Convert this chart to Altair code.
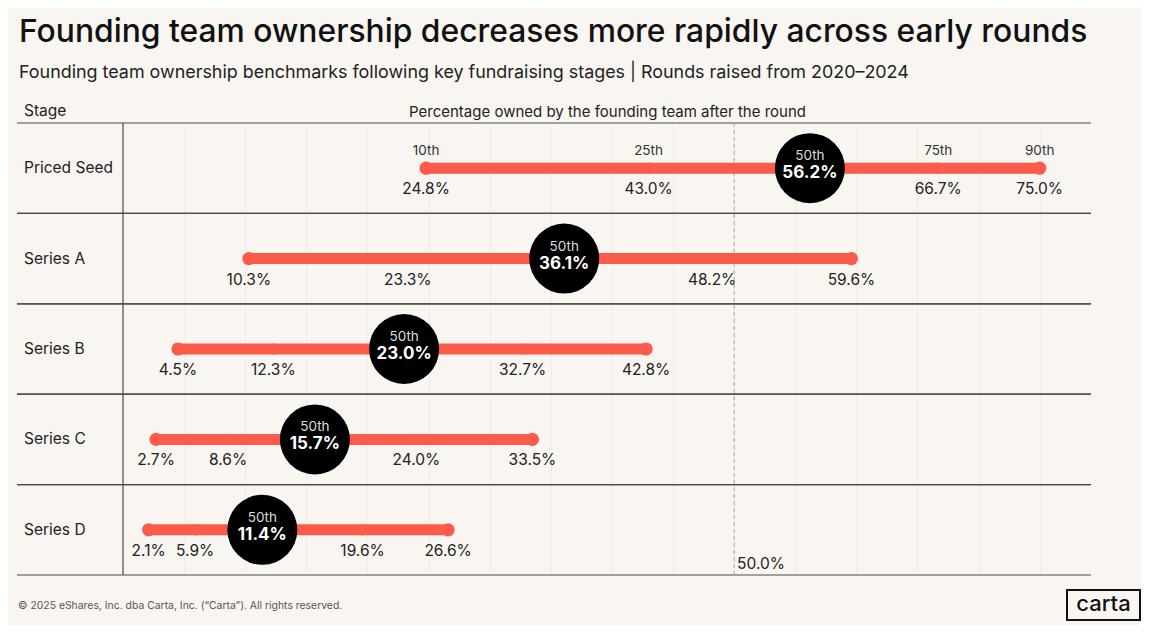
import altair as alt
import pandas as pd

# ---- data ----
stages = ["Priced Seed", "Series A", "Series B", "Series C", "Series D"]
pctl_names = ["10th", "25th", "50th", "75th", "90th"]
p10 = [24.8, 10.3, 4.5, 2.7, 2.1]
p25 = [43.0, 23.3, 12.3, 8.6, 5.9]
p50 = [56.2, 36.1, 23.0, 15.7, 11.4]
p75 = [66.7, 48.2, 32.7, 24.0, 19.6]
p90 = [75.0, 59.6, 42.8, 33.5, 26.6]
grid_values = [5, 10, 15, 20, 25, 30, 35, 40, 45, 50, 55, 60, 65, 70, 75]
ref_line = [50.0]

title = "Founding team ownership decreases more rapidly across early rounds"
subtitle = "Founding team ownership benchmarks following key fundraising stages | Rounds raised from 2020\u20132024"
x_title = "Percentage owned by the founding team after the round"
footer = "\u00a9 2025 eShares, Inc. dba Carta, Inc. (\u201cCarta\u201d). All rights reserved."

CORAL = "#fc5b4b"
BG = "#f9f6f1"
FONT = "Inter"
W, H = 968, 452

wide = pd.DataFrame({"stage": stages, "p10": p10, "p25": p25, "p50": p50, "p75": p75, "p90": p90})
rows = []
for i, s in enumerate(stages):
    for name, arr in zip(pctl_names, [p10, p25, p50, p75, p90]):
        rows.append({"stage": s, "pctl": name, "value": arr[i],
                     "end": name in ("10th", "90th"), "seed": i == 0})
long = pd.DataFrame(rows)

xs = alt.Scale(domain=[0, 79.2], nice=False, zero=False)
xaxis = alt.Axis(orient="top", title=x_title, labels=False, ticks=False, domain=False,
                 grid=True, values=grid_values, gridColor="#efebe6", gridWidth=1,
                 titleFont=FONT, titleFontSize=15, titleFontWeight="normal", titleColor="#222",
                 titleBaseline="middle", titleY=-12)
ys = alt.Scale(type="band", domain=stages, paddingInner=0, paddingOuter=0)

def X(field):
    return alt.X(field, type="quantitative", scale=xs, axis=xaxis)

def Y(bp=None):
    if bp is None:
        return alt.Y("stage:N", scale=ys, axis=None)
    return alt.Y("stage:N", scale=ys, axis=None, bandPosition=bp)

# separators
sep_top = alt.Chart(wide).mark_rule(color="#4a4a4a", strokeWidth=1.2).encode(
    y=Y(0), x=alt.value(-106), x2=alt.value(W))
sep_bot = alt.Chart(wide).mark_rule(color="#4a4a4a", strokeWidth=1.2).encode(
    y=Y(1), x=alt.value(-106), x2=alt.value(W))
left_line = alt.Chart(pd.DataFrame({"v": [0]})).mark_rule(color="#4a4a4a", strokeWidth=1.2).encode(
    x=X("v"))
ref = alt.Chart(pd.DataFrame({"value": ref_line})).mark_rule(
    color="#aaa", strokeWidth=1, strokeDash=[4, 3]).encode(x=X("value"))
ref_lbl = alt.Chart(pd.DataFrame({"value": ref_line})).transform_calculate(
    label="format(datum.value, '.1f') + '%'").mark_text(
    align="left", baseline="middle", dx=3, font=FONT, fontSize=15.5, color="#222").encode(
    x=X("value"), y=alt.value(H - 11), text="label:N")

bars = alt.Chart(wide).mark_rule(color=CORAL, strokeWidth=11).encode(
    x=X("p10"), x2="p90", y=Y())

end_dots = alt.Chart(long).transform_filter("datum.end").mark_circle(
    color=CORAL, opacity=1, size=175).encode(x=X("value"), y=Y())
mid_dots = alt.Chart(long).transform_filter("datum.pctl == '25th' || datum.pctl == '75th'").mark_circle(
    color=CORAL, opacity=1, size=125).encode(x=X("value"), y=Y())

val_lbl = alt.Chart(long).transform_filter("datum.pctl != '50th'").transform_calculate(
    label="format(datum.value, '.1f') + '%'").mark_text(
    baseline="middle", dy=21, font=FONT, fontSize=15.5, color="#222").encode(
    x=X("value"), y=Y(), text="label:N")
pct_lbl = alt.Chart(long).transform_filter("datum.seed && datum.pctl != '50th'").mark_text(
    baseline="middle", dy=-17, font=FONT, fontSize=13.5, color="#333").encode(
    x=X("value"), y=Y(), text="pctl:N")

med = long[long.pctl == "50th"]
med_circle = alt.Chart(med).mark_circle(color="black", opacity=1, size=4900).encode(
    x=X("value"), y=Y())
med_name = alt.Chart(med).mark_text(baseline="middle", dy=-12, font=FONT, fontSize=13.5,
                                    color="#dddddd").encode(x=X("value"), y=Y(), text="pctl:N")
med_val = alt.Chart(med).transform_calculate(
    label="format(datum.value, '.1f') + '%'").mark_text(
    baseline="middle", dy=5, font=FONT, fontSize=17, fontWeight="bold", color="white").encode(
    x=X("value"), y=Y(), text="label:N")

stage_lbl = alt.Chart(wide).mark_text(align="left", baseline="middle", font=FONT, fontSize=15.5,
                                      color="#222").encode(
    x=alt.value(-99), y=Y(), text="stage:N")

one = pd.DataFrame({"k": [0]})
def note(text, x, y, size, color="#111", weight="normal", align="left"):
    return alt.Chart(one).mark_text(text=text, align=align, baseline="middle", font=FONT,
                                    fontSize=size, fontWeight=weight, color=color).encode(
        x=alt.value(x), y=alt.value(y))

t_title = note(title, -104, -91, 31.8, "#111", 500)
t_sub = note(subtitle, -104, -50, 17.9, "#222")
t_stage = note("Stage", -99, -12, 15.5, "#222")
t_foot = note(footer, -105, 483, 10.4, "#555")
logo_box = alt.Chart(one).mark_rect(fill=BG, stroke="#111", strokeWidth=2).encode(
    x=alt.value(944), x2=alt.value(1017), y=alt.value(467), y2=alt.value(497))
logo_txt = note("carta", 980.5, 481, 22, "#111", 500, "center")

chart = alt.layer(
    sep_top, sep_bot, left_line, ref, ref_lbl, bars, end_dots, mid_dots, val_lbl, pct_lbl,
    med_circle, med_name, med_val, stage_lbl, t_title, t_sub, t_stage, t_foot, logo_box, logo_txt
).properties(
    width=W, height=H,
    padding={"left": 115, "top": 115, "right": 50, "bottom": 50},
    autosize=alt.AutoSizeParams(type="none"),
).configure(background=BG).configure_view(stroke=None)

chart.save("out.html", embed_options={"renderer": "svg", "actions": False})
